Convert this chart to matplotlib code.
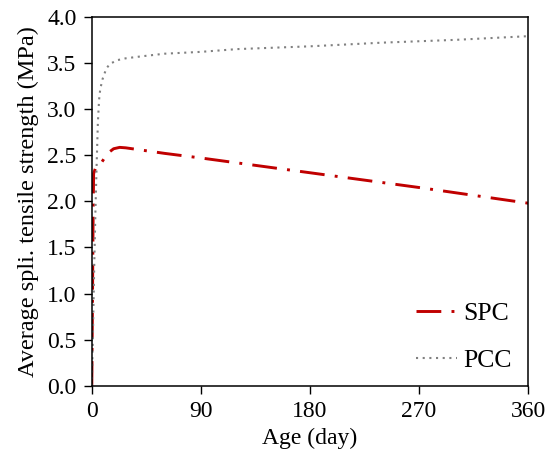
import matplotlib
matplotlib.use("Agg")
import matplotlib.pyplot as plt

# (jours, MPa)
spc_age = [0, 0.5, 1, 1.5, 3, 7, 10, 14, 18, 23, 28, 60, 90, 180, 270, 360]
spc_str = [0, 0.8, 1.7, 2.3, 2.36, 2.40, 2.46, 2.53, 2.57, 2.585, 2.58, 2.52, 2.47, 2.31, 2.15, 1.98]

pcc_age = [0, 0.5, 1, 2, 3, 4, 5, 6, 7, 9, 12, 15, 21, 28, 40, 60, 90, 120, 180, 240, 300, 360]
pcc_str = [0, 0.3, 0.6, 1.3, 1.9, 2.4, 2.85, 3.1, 3.22, 3.33, 3.44, 3.49, 3.53, 3.55, 3.57,
           3.60, 3.62, 3.65, 3.68, 3.72, 3.75, 3.79]

xticks = [0, 90, 180, 270, 360]
yticks = [0.0, 0.5, 1.0, 1.5, 2.0, 2.5, 3.0, 3.5, 4.0]

plt.rcParams["font.family"] = ["Liberation Serif", "DejaVu Serif"]
plt.rcParams["font.size"] = 16

fig, ax = plt.subplots(figsize=(5.53, 4.54), dpi=100)
fig.subplots_adjust(left=0.166, right=0.955, top=0.963, bottom=0.150)

ax.plot(spc_age, spc_str, color="#c00000", lw=2.1, dashes=(8.5, 3.5, 1, 3.5), label="SPC")
ax.plot(pcc_age, pcc_str, color="#808080", lw=1.5, linestyle=(0, (1, 2.2)), label="PCC")

ax.set_xlim(0, 360)
ax.set_ylim(0, 4.0)
ax.set_xticks(xticks)
ax.set_yticks(yticks)
ax.set_yticklabels([f"{v:.1f}" for v in yticks])
ax.tick_params(direction="out", length=6, width=1, pad=5, labelsize=17,
               top=False, right=False)
for s in ax.spines.values():
    s.set_linewidth(1.1)
ax.set_xlabel("Age (day)", fontsize=17, labelpad=4)
ax.set_ylabel("Average spli. tensile strength (MPa)", fontsize=17.5, labelpad=6)

ax.legend(loc="lower right", frameon=False, fontsize=18.5, handlelength=1.6,
          handletextpad=0.25, labelspacing=0.95, bbox_to_anchor=(1.015, -0.025))

fig.savefig("out.png", dpi=100)
